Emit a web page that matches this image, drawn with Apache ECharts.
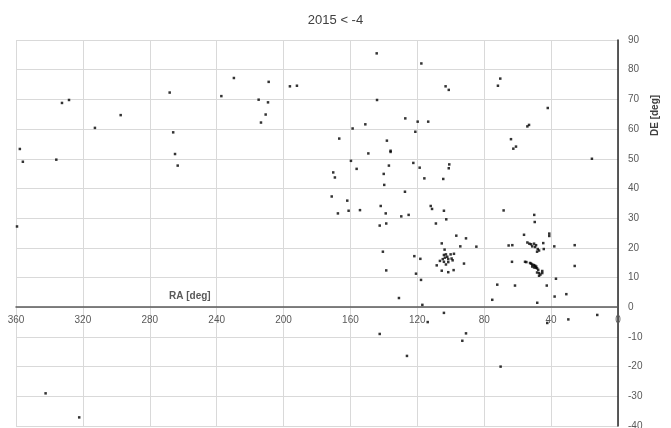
<!DOCTYPE html>
<html>
<head>
<meta charset="utf-8">
<script src="https://cdn.jsdelivr.net/npm/echarts@6/dist/echarts.min.js"></script>
<style>
html,body{margin:0;padding:0;background:#fff;}
#chart{width:671px;height:428px;}
</style>
</head>
<body>
<div id="chart"></div>
<script>
const chartTitle = "2015 < -4";
const xAxisName = "RA [deg]";
const yAxisName = "DE [deg]";
const xTicks = [0, 40, 80, 120, 160, 200, 240, 280, 320, 360];
const yTicks = [-40, -30, -20, -10, 0, 10, 20, 30, 40, 50, 60, 70, 80, 90];

const ra = [
  268.1, 237.2, 332.5, 328.3, 297.4, 312.8, 266.0, 357.7, 355.9, 335.9, 264.9, 263.3, 359.4,
  144.3, 117.6, 229.7, 208.9, 196.2, 192.0, 103.1, 101.2, 214.9, 209.3, 210.7, 213.5,
  144.1, 127.2, 119.8, 113.5, 151.1, 158.7, 121.2, 166.7, 138.2, 136.0, 136.0, 149.3,
  159.7, 156.3, 137.0, 122.4, 118.6, 100.9, 101.2, 70.4, 71.8, 42.0, 53.2, 54.2, 64.0,
  61.0, 62.6, 15.6, 170.3, 169.3, 140.1, 115.8, 104.5, 139.8, 127.4, 171.2, 161.9, 141.9,
  112.0, 111.2, 161.1, 154.3, 104.1, 167.5, 138.9, 129.6, 125.2, 102.7, 108.9, 138.6,
  142.5, 105.4, 103.7, 140.6, 121.8, 118.2, 108.4, 105.4, 101.5, 138.6, 120.8, 117.8,
  131.0, 117.0, 104.1, 113.8, 142.5, 126.2, 342.3, 322.2, 75.2, 48.3, 37.9, 30.9, 12.4,
  29.7, 42.3, 90.9, 93.1, 70.2, 68.4, 50.1, 49.8, 41.1, 41.1, 56.2,
  54.2, 53.0, 52.0, 50.2, 49.0, 51.3, 49.6, 48.0, 47.2, 48.4, 44.7, 44.4, 38.1,
  65.4, 63.2, 25.9, 96.7, 90.9, 94.3, 84.7, 92.1, 63.4, 25.9,
  55.6, 54.8, 52.6, 52.0, 51.3, 50.4, 49.6, 48.9, 51.3, 50.2, 49.2, 48.4, 47.7, 48.4,
  47.2, 46.4, 45.3, 45.3, 47.2, 37.1, 72.2, 61.6, 42.6,
  104.1, 102.9, 100.1, 98.1, 103.5, 102.1, 104.8, 101.5, 99.5, 98.9, 106.5, 104.1,
  101.5, 102.9, 98.3
];
const dec = [
  72.3, 71.1, 68.8, 69.8, 64.7, 60.4, 58.9, 53.3, 49.0, 49.7, 51.6, 47.7, 27.2,
  85.5, 82.1, 77.2, 75.9, 74.4, 74.6, 74.4, 73.2, 69.9, 69.0, 64.9, 62.2,
  69.8, 63.6, 62.5, 62.5, 61.6, 60.2, 59.1, 56.8, 56.1, 52.7, 52.3, 51.8,
  49.3, 46.6, 47.7, 48.6, 47.0, 48.1, 46.8, 77.0, 74.6, 67.1, 61.4, 60.9, 56.6,
  54.1, 53.4, 50.0, 45.4, 43.7, 44.9, 43.4, 43.2, 41.2, 38.9, 37.3, 35.9, 34.1,
  34.1, 33.1, 32.5, 32.7, 32.5, 31.6, 31.6, 30.6, 31.1, 29.6, 28.2, 28.2,
  27.5, 21.5, 19.4, 18.7, 17.2, 16.3, 14.1, 12.3, 11.8, 12.4, 11.3, 9.2,
  3.1, 0.8, -1.9, -5.0, -9.0, -16.4, -29.0, -37.1, 2.5, 1.5, 3.6, 4.4, -2.6,
  -4.1, -5.3, -8.8, -11.3, -20.0, 32.6, 31.1, 28.7, 24.8, 24.0, 24.4,
  21.8, 21.4, 21.2, 21.4, 20.9, 20.5, 20.3, 19.6, 19.1, 18.7, 21.6, 19.6, 20.5,
  20.8, 20.9, 20.9, 24.1, 23.2, 20.5, 20.4, 14.7, 15.3, 13.9,
  15.3, 15.2, 14.9, 14.7, 14.4, 14.2, 14.0, 13.7, 13.7, 13.4, 13.3, 13.1, 12.6, 11.7,
  11.5, 11.0, 12.2, 11.5, 10.6, 9.6, 7.6, 7.3, 7.3,
  17.6, 17.8, 17.8, 18.0, 16.7, 17.0, 16.2, 16.2, 16.4, 15.8, 15.6, 15.3,
  15.2, 14.4, 12.5
];

const points = ra.map((r, i) => [r, dec[i]]);
const labelFont = '"Liberation Sans", "DejaVu Sans", sans-serif';

const gridTop = 40, gridBottom = 2, chartH = 428;
const plotH = chartH - gridTop - gridBottom;
const yMin = yTicks[0], yMax = yTicks[yTicks.length - 1];
// shift the x axis (line + labels) up to the DE = 0 line
const xAxisOffset = -plotH * (0 - yMin) / (yMax - yMin);

const chart = echarts.init(document.getElementById('chart'), null, {renderer: 'canvas'});
chart.setOption({
  animation: false,
  backgroundColor: '#ffffff',
  title: {
    text: chartTitle,
    left: 'center',
    top: 9,
    textStyle: {fontSize: 13, fontWeight: 'normal', color: '#404040', fontFamily: labelFont}
  },
  grid: {left: 16, right: 53, top: gridTop, bottom: gridBottom, containLabel: false, outerBoundsMode: 'none'},
  xAxis: {
    type: 'value',
    position: 'bottom',
    offset: xAxisOffset,
    min: xTicks[0],
    max: xTicks[xTicks.length - 1],
    interval: 40,
    inverse: true,
    axisLine: {onZero: false, lineStyle: {color: '#595959', width: 1.5}},
    axisTick: {show: false},
    axisLabel: {fontSize: 10, color: '#595959', margin: 8, fontFamily: labelFont},
    splitLine: {show: true, lineStyle: {color: '#d9d9d9', width: 1}}
  },
  yAxis: {
    type: 'value',
    position: 'right',
    min: yMin,
    max: yMax,
    interval: 10,
    axisLine: {show: true, onZero: false, lineStyle: {color: '#262626', width: 1.5}},
    axisTick: {show: false},
    axisLabel: {fontSize: 10, color: '#595959', margin: 10, fontFamily: labelFont},
    splitLine: {show: true, lineStyle: {color: '#d9d9d9', width: 1}}
  },
  graphic: [
    {
      type: 'text', left: 169, top: 291,
      style: {text: xAxisName, fill: '#595959', font: 'bold 10px ' + labelFont}
    },
    {
      type: 'text', x: 650, y: 136, rotation: Math.PI / 2,
      style: {text: yAxisName, fill: '#404040', font: 'bold 10px ' + labelFont}
    }
  ],
  series: [{
    type: 'scatter',
    data: points,
    symbol: 'rect',
    symbolSize: 2.5,
    itemStyle: {color: '#000000'}
  }]
});
</script>
</body>
</html>
